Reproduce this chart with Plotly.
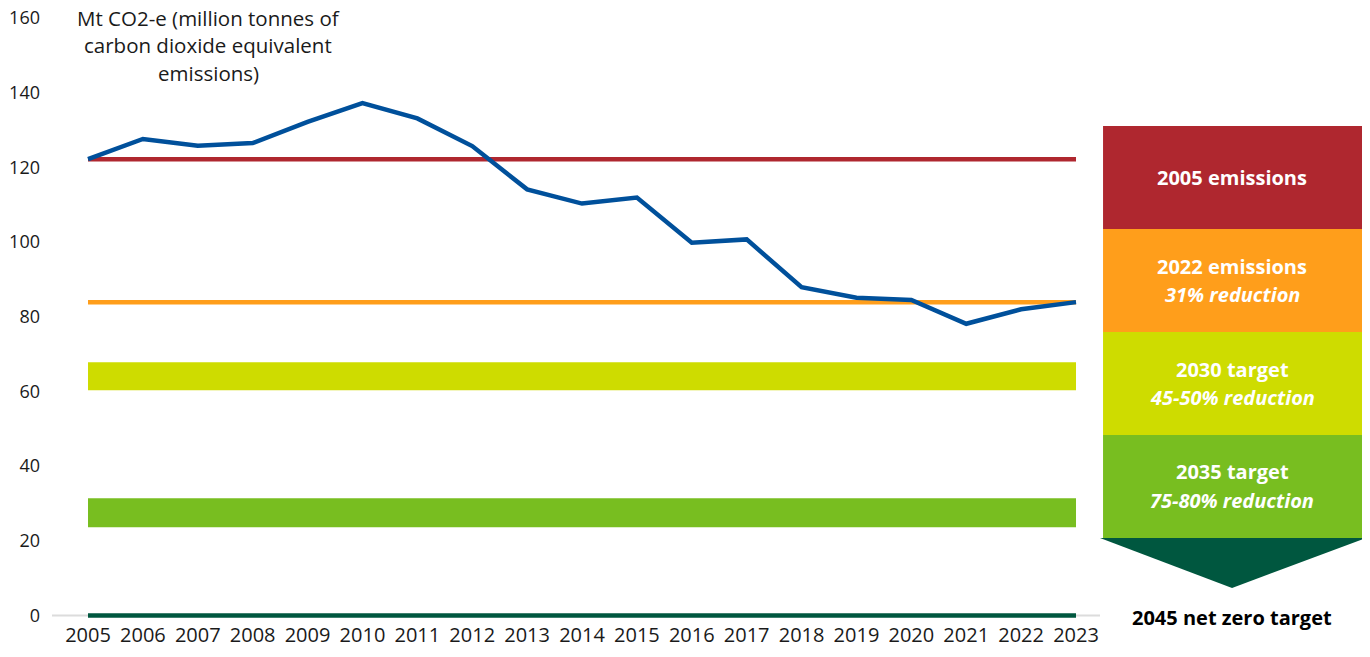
import plotly.graph_objects as go

years = list(range(2005, 2024))
emissions = [122.2, 127.6, 125.8, 126.5, 132.2, 137.2, 133.1, 125.7, 114.1, 110.3,
             111.9, 99.8, 100.7, 87.9, 85.1, 84.5, 78.1, 82.0, 83.9]
level_2005 = 122.2
level_2022 = 83.9
target_2030 = [60.3, 67.8]
target_2035 = [23.6, 31.4]
net_zero = 0

panel_labels = [
    ("2005 emissions", None, "#AF272F"),
    ("2022 emissions", "31% reduction", "#FF9E1B"),
    ("2030 target", "45-50% reduction", "#CEDC00"),
    ("2035 target", "75-80% reduction", "#78BE20"),
]
title_lines = ["Mt CO2-e (million tonnes of", "carbon dioxide equivalent", "emissions)"]
tick_vals = [0, 20, 40, 60, 80, 100, 120, 140, 160]

FONT = "Open Sans"
fig = go.Figure()

# baseline axis line
fig.add_shape(type="line", xref="paper", yref="y", x0=0, x1=1, y0=0, y1=0,
              line=dict(color="#dcdcdc", width=2), layer="below")
# target bands
fig.add_shape(type="rect", xref="x", yref="y", x0=years[0], x1=years[-1],
              y0=target_2030[0], y1=target_2030[1], fillcolor="#CEDC00",
              line=dict(width=0), layer="below")
fig.add_shape(type="rect", xref="x", yref="y", x0=years[0], x1=years[-1],
              y0=target_2035[0], y1=target_2035[1], fillcolor="#78BE20",
              line=dict(width=0), layer="below")

fig.add_trace(go.Scatter(x=[years[0], years[-1]], y=[net_zero, net_zero], mode="lines",
                         line=dict(color="#00573F", width=4.5), hoverinfo="skip"))
fig.add_trace(go.Scatter(x=[years[0], years[-1]], y=[level_2005, level_2005], mode="lines",
                         line=dict(color="#AF272F", width=4.5), hoverinfo="skip"))
fig.add_trace(go.Scatter(x=[years[0], years[-1]], y=[level_2022, level_2022], mode="lines",
                         line=dict(color="#FF9E1B", width=4.5), hoverinfo="skip"))
fig.add_trace(go.Scatter(x=years, y=emissions, mode="lines",
                         line=dict(color="#00509B", width=4.5), hoverinfo="skip"))

# right panel
tops = [0.8209, 0.6501, 0.4793, 0.3085]
h = 0.1708
x0p, x1p = 1.0029, 1.25
xc = 1.126
for (t1, t2, col), top in zip(panel_labels, tops):
    fig.add_shape(type="rect", xref="paper", yref="paper", x0=x0p, x1=x1p,
                  y0=top - h, y1=top, fillcolor=col, line=dict(width=0))
    mid = top - h / 2
    if t2 is None:
        fig.add_annotation(xref="paper", yref="paper", x=xc, y=mid,
                           xanchor="center", yanchor="middle",
                           text=f"<b>{t1}</b>", showarrow=False,
                           font=dict(family=FONT, size=20, color="white"))
    else:
        fig.add_annotation(xref="paper", yref="paper", x=xc, y=mid + 0.024,
                           xanchor="center", yanchor="middle",
                           text=f"<b>{t1}</b>", showarrow=False,
                           font=dict(family=FONT, size=20, color="white"))
        fig.add_annotation(xref="paper", yref="paper", x=xc, y=mid - 0.024,
                           xanchor="center", yanchor="middle",
                           text=f"<b><i>{t2}</i></b>", showarrow=False,
                           font=dict(family=FONT, size=20, color="white"))
fig.add_shape(type="path", xref="paper", yref="paper",
              path="M 1.000 0.1376 L 1.2538 0.1376 L 1.126 0.0547 Z",
              fillcolor="#00573F", line=dict(width=0))
fig.add_annotation(xref="paper", yref="paper", x=xc, y=0.005,
                   xanchor="center", yanchor="middle",
                   text="<b>2045 net zero target</b>", showarrow=False,
                   font=dict(family=FONT, size=20, color="black"))

for i, line in enumerate(title_lines):
    fig.add_annotation(xref="paper", yref="paper", x=0.1489, y=1.0 - i * 0.0456,
                       xanchor="center", yanchor="middle", text=line,
                       showarrow=False, font=dict(family=FONT, size=20.5, color="#1a1a1a"))

fig.update_layout(
    width=1370, height=657,
    margin=dict(l=44, r=278, t=10, b=44),
    paper_bgcolor="white", plot_bgcolor="white",
    showlegend=False,
    font=dict(family=FONT, size=18, color="#1a1a1a"),
    xaxis=dict(range=[2004.344, 2023.437], tickmode="array", tickvals=years,
               ticktext=[str(y) for y in years], showgrid=False, zeroline=False,
               showline=False, ticks="", tickfont=dict(size=20), automargin=False,
               ticklabeloverflow="allow"),
    yaxis=dict(range=[-1.5, 160], tickvals=tick_vals, showgrid=False, zeroline=False,
               showline=False, ticks="", ticklabelstandoff=11, tickfont=dict(size=18),
               automargin=False, ticklabeloverflow="allow"),
)

fig.write_html("out.html")
